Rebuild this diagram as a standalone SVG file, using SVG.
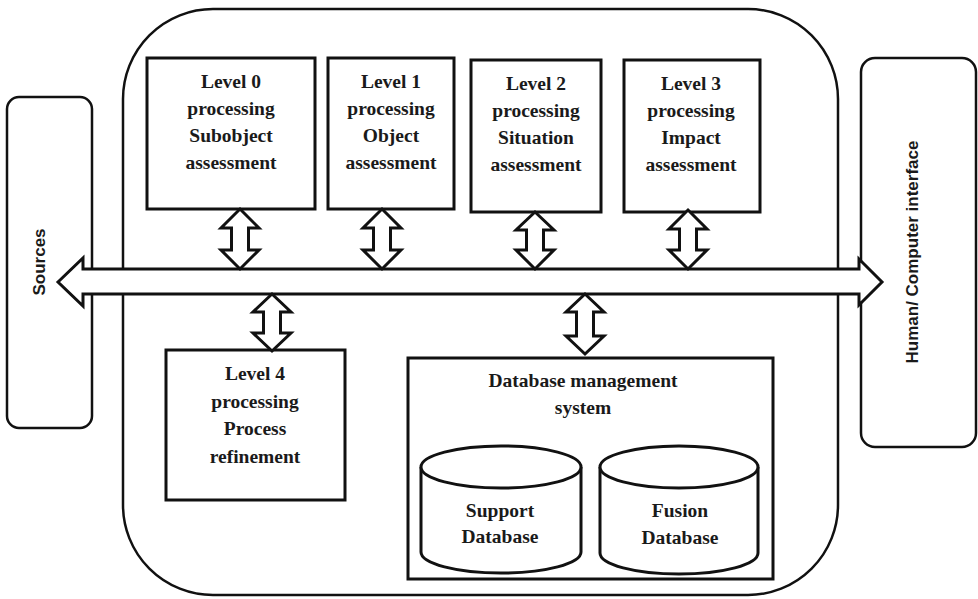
<svg xmlns="http://www.w3.org/2000/svg" width="978" height="599" viewBox="0 0 978 599">
<style>
.box{fill:#fff;stroke:#111;stroke-width:3}
.thin{fill:#fff;stroke:#111;stroke-width:2.5}
.lbl{font-family:"Liberation Serif","Times New Roman",serif;font-weight:bold;font-size:19.5px;fill:#1a1a1a;text-anchor:middle}
.side{font-family:"Liberation Sans",Arial,sans-serif;font-weight:bold;font-size:17px;fill:#1a1a1a;text-anchor:middle}
.arr{fill:#fff;stroke:#111;stroke-width:3;stroke-linejoin:miter}
</style>
<rect width="978" height="599" fill="#fff"/>
<g id="fusion-system">
<rect class="thin" x="123" y="9" width="715" height="586" rx="90" ry="90"/>
</g>
<g id="sources">
<rect class="thin" x="7" y="97" width="85" height="331" rx="12" ry="12"/>
<text class="side" transform="translate(45,262) rotate(-90)">Sources</text>
</g>
<g id="hci">
<rect class="thin" x="861" y="58" width="115" height="389" rx="14" ry="14"/>
<text class="side" transform="translate(918,252) rotate(-90)">Human/ Computer interface</text>
</g>
<g id="level0">
<rect class="box" x="147" y="58" width="168" height="151"/>
<text class="lbl" x="231" y="88">Level 0</text>
<text class="lbl" x="231" y="115">processing</text>
<text class="lbl" x="231" y="142">Subobject</text>
<text class="lbl" x="231" y="169">assessment</text>
</g>
<g id="level1">
<rect class="box" x="328" y="58" width="126" height="151"/>
<text class="lbl" x="391" y="88">Level 1</text>
<text class="lbl" x="391" y="115">processing</text>
<text class="lbl" x="391" y="142">Object</text>
<text class="lbl" x="391" y="169">assessment</text>
</g>
<g id="level2">
<rect class="box" x="471" y="60" width="130" height="152"/>
<text class="lbl" x="536" y="90">Level 2</text>
<text class="lbl" x="536" y="117">processing</text>
<text class="lbl" x="536" y="144">Situation</text>
<text class="lbl" x="536" y="171">assessment</text>
</g>
<g id="level3">
<rect class="box" x="624" y="60" width="136" height="152"/>
<text class="lbl" x="691" y="90">Level 3</text>
<text class="lbl" x="691" y="117">processing</text>
<text class="lbl" x="691" y="144">Impact</text>
<text class="lbl" x="691" y="171">assessment</text>
</g>
<g id="level4">
<rect class="box" x="166" y="350" width="179" height="150"/>
<text class="lbl" x="255" y="380">Level 4</text>
<text class="lbl" x="255" y="408">processing</text>
<text class="lbl" x="255" y="435">Process</text>
<text class="lbl" x="255" y="463">refinement</text>
</g>
<g id="dbms">
<rect class="box" x="408" y="358" width="365" height="221"/>
<text class="lbl" x="583" y="387">Database management</text>
<text class="lbl" x="583" y="414">system</text>
</g>
<g id="support-db">
<path class="box" d="M421 467 L421 552 A80 21 0 0 0 581 552 L581 467"/>
<ellipse class="box" cx="501" cy="467" rx="80" ry="21"/>
<text class="lbl" x="500" y="517">Support</text>
<text class="lbl" x="500" y="543">Database</text>
</g>
<g id="fusion-db">
<path class="box" d="M600 467 L600 553 A79 21 0 0 0 758 553 L758 467"/>
<ellipse class="box" cx="679" cy="467" rx="79" ry="21"/>
<text class="lbl" x="680" y="517">Fusion</text>
<text class="lbl" x="680" y="544">Database</text>
</g>
<g id="connectors">
<path class="arr" d="M58 282 L83 258 L83 269 L859 269 L859 259 L882 282 L859 305 L859 294 L83 294 L83 306 Z"/>
<path class="arr" d="M240 209 L259 228 L248.5 228 L248.5 250 L259 250 L240 269 L221 250 L231.5 250 L231.5 228 L221 228 Z"/>
<path class="arr" d="M382 209 L401 228 L390.5 228 L390.5 250 L401 250 L382 269 L363 250 L373.5 250 L373.5 228 L363 228 Z"/>
<path class="arr" d="M535 212 L554 230 L543.5 230 L543.5 250 L554 250 L535 269 L516 250 L526.5 250 L526.5 230 L516 230 Z"/>
<path class="arr" d="M688 210 L707 229 L696.5 229 L696.5 250 L707 250 L688 269 L669 250 L679.5 250 L679.5 229 L669 229 Z"/>
<path class="arr" d="M272 294 L291 312 L280.5 312 L280.5 333 L291 333 L272 351 L253 333 L263.5 333 L263.5 312 L253 312 Z"/>
<path class="arr" d="M585 294 L604 312 L593.5 312 L593.5 336 L604 336 L585 354 L566 336 L576.5 336 L576.5 312 L566 312 Z"/>
</g>
</svg>
